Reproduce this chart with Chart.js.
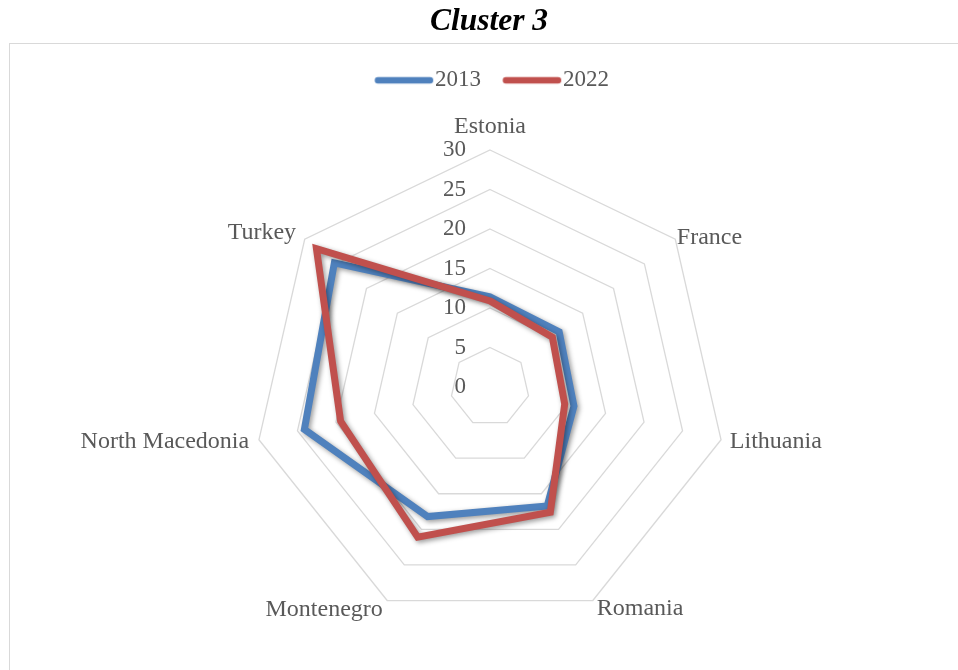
<!DOCTYPE html>
<html>
<head>
<meta charset="utf-8">
<script src="https://cdn.jsdelivr.net/npm/chart.js@4.4.1/dist/chart.umd.min.js"></script>
<style>
  html, body { margin: 0; padding: 0; background: #ffffff; }
  #wrap { width: 958px; height: 670px; }
</style>
</head>
<body>
<div id="wrap"><canvas id="c" width="958" height="670"></canvas></div>
<script>
// ---- data ----
const CATEGORIES = ['Estonia', 'France', 'Lithuania', 'Romania', 'Montenegro', 'North Macedonia', 'Turkey'];
const SERIES_NAMES = ['2013', '2022'];
const VALUES_2013 = [11.4, 11.2, 10.9, 16.7, 18.2, 24.1, 25.2];
const VALUES_2022 = [10.9, 10.1, 9.7, 17.6, 21.1, 19.4, 28.1];
const TICK_MIN = 0;
const TICK_MAX = 30;
const TICK_STEP = 5;
const CHART_TITLE = 'Cluster 3';

// ---- styles / layout ----
const SERIF = "'Liberation Serif', 'Times New Roman', serif";
const TEXT_GREY = '#595959';
const COLORS = ['#4F81BD', '#C0504D'];
const CENTER_X = 490, CENTER_Y = 387, RADIUS = 237;
const LABEL_PAD = [23.5, 2, 9, 9, 10, 10, 11];

function legendLine(color) {
  const cv = document.createElement('canvas');
  cv.width = 80; cv.height = 10;
  const g = cv.getContext('2d');
  g.strokeStyle = color; g.lineWidth = 6.5; g.lineCap = 'round';
  g.beginPath(); g.moveTo(21.75, 5); g.lineTo(73.75, 5); g.stroke();
  return cv;
}

const framePlugin = {
  id: 'frame',
  beforeDraw(chart) {
    const ctx = chart.ctx;
    ctx.save();
    ctx.fillStyle = '#ffffff';
    ctx.fillRect(0, 0, chart.width, chart.height);
    ctx.strokeStyle = '#d9d9d9';
    ctx.lineWidth = 1;
    ctx.strokeRect(9.5, 43.5, 1000, 1000);
    ctx.restore();
  }
};

const tickPlugin = {
  id: 'tickLabels',
  beforeDatasetsDraw(chart) {
    const s = chart.scales.r;
    const ctx = chart.ctx;
    ctx.save();
    ctx.font = '23px ' + SERIF;
    ctx.fillStyle = TEXT_GREY;
    ctx.textAlign = 'right';
    ctx.textBaseline = 'middle';
    s.ticks.forEach(t => {
      const d = s.getDistanceFromCenterForValue(t.value);
      ctx.fillText(t.label, s.xCenter - 24, s.yCenter - d);
    });
    ctx.restore();
  }
};

const shadowPlugin = {
  id: 'lineShadow',
  beforeDatasetDraw(chart) {
    const ctx = chart.ctx;
    ctx.save();
    ctx.shadowColor = 'rgba(0,0,0,0.4)';
    ctx.shadowBlur = 5;
    ctx.shadowOffsetX = 2;
    ctx.shadowOffsetY = 2;
  },
  afterDatasetDraw(chart) {
    chart.ctx.restore();
  }
};

const seriesValues = [VALUES_2013, VALUES_2022];
const datasets = SERIES_NAMES.map((name, i) => ({
  label: name,
  data: seriesValues[i],
  borderColor: COLORS[i],
  backgroundColor: 'rgba(0,0,0,0)',
  borderWidth: 7,
  borderJoinStyle: 'miter',
  fill: false,
  pointRadius: 0,
  pointHoverRadius: 0,
  tension: 0,
  clip: false,
  order: SERIES_NAMES.length - 1 - i
}));

new Chart(document.getElementById('c'), {
  type: 'radar',
  data: { labels: CATEGORIES, datasets: datasets },
  options: {
    responsive: false,
    animation: false,
    devicePixelRatio: 1,
    events: [],
    layout: { padding: { left: 20, right: 0, top: 0, bottom: 0 } },
    plugins: {
      title: {
        display: true,
        text: CHART_TITLE,
        color: '#000000',
        font: { family: SERIF, size: 31.5, weight: 'bold', style: 'italic' },
        padding: { top: 2.5, bottom: 12.5 }
      },
      legend: {
        display: true,
        position: 'top',
        labels: {
          color: TEXT_GREY,
          font: { family: SERIF, size: 23 },
          padding: 16,
          usePointStyle: true,
          pointStyleWidth: 54.5,
          generateLabels(chart) {
            return chart.data.datasets.map((ds, i) => ({
              text: ds.label,
              fillStyle: ds.borderColor,
              strokeStyle: ds.borderColor,
              lineWidth: 0,
              hidden: false,
              pointStyle: legendLine(ds.borderColor),
              datasetIndex: i,
              fontColor: TEXT_GREY
            }));
          }
        }
      },
      tooltip: { enabled: false }
    },
    scales: {
      r: {
        min: TICK_MIN,
        max: TICK_MAX,
        beginAtZero: true,
        ticks: { stepSize: TICK_STEP, display: false },
        grid: { color: '#d9d9d9', lineWidth: 1.3, circular: false },
        angleLines: { display: false },
        pointLabels: {
          color: TEXT_GREY,
          font: { family: SERIF, size: 24, lineHeight: 0.01 },
          padding: (ctx) => LABEL_PAD[ctx.index]
        },
        afterFit(scale) {
          const saved = { left: scale.left, right: scale.right, top: scale.top, bottom: scale.bottom };
          scale.xCenter = CENTER_X;
          scale.yCenter = CENTER_Y;
          scale.drawingArea = RADIUS;
          scale.left = -100000; scale.right = 100000;
          scale.top = -100000; scale.bottom = 100000;
          scale.fit();
          Object.assign(scale, saved);
        }
      }
    }
  },
  plugins: [framePlugin, tickPlugin, shadowPlugin]
});
</script>
</body>
</html>
